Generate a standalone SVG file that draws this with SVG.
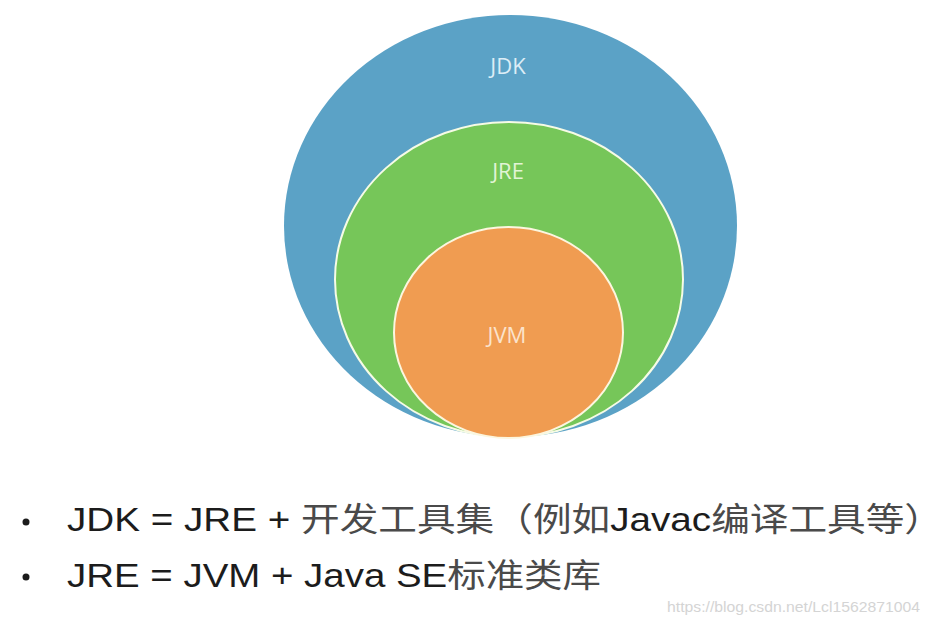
<svg xmlns="http://www.w3.org/2000/svg" width="930" height="627" viewBox="0 0 930 627">
<style>
.lbl{font-family:"Open Sans","Noto Sans",sans-serif;font-size:22px;text-anchor:middle}
.line{font-family:"Liberation Sans","Noto Sans CJK SC",sans-serif;font-size:33px;fill:#1c1c1c}
.cjk{fill:#4a4a4a}
.wm{font-family:"Liberation Sans",sans-serif;font-size:15px;fill:#d4d4d4}
</style>
<rect x="0" y="0" width="930" height="627" fill="#ffffff"/>
<g id="jdk">
<ellipse cx="510.5" cy="226" rx="226.5" ry="211" fill="#5ba2c6"/>
<text class="lbl" x="508" y="74" fill="#dcedf6">JDK</text>
</g>
<g id="jre">
<ellipse cx="509" cy="279.5" rx="174" ry="157.5" fill="#76c659" stroke="#f6fbe6" stroke-width="2"/>
<text class="lbl" x="508" y="179" fill="#e2f4d6">JRE</text>
</g>
<g id="jvm">
<ellipse cx="508.5" cy="332.5" rx="114.5" ry="105.5" fill="#f09c51" stroke="#fcf6df" stroke-width="2"/>
<text class="lbl" x="507" y="343" fill="#fbe3cc">JVM</text>
</g>
<g id="bullets">
<circle cx="26" cy="522" r="3.5" fill="#1c1c1c"/>
<circle cx="26" cy="577" r="3.5" fill="#1c1c1c"/>
<text class="line" x="67" y="531" textLength="876" lengthAdjust="spacingAndGlyphs">JDK = JRE + <tspan class="cjk">开发工具集（例如</tspan>Javac<tspan class="cjk">编译工具等）</tspan></text>
<text class="line" x="67" y="587" textLength="534" lengthAdjust="spacingAndGlyphs">JRE = JVM + Java SE<tspan class="cjk">标准类库</tspan></text>
</g>
<text class="wm" x="667" y="612" textLength="253" lengthAdjust="spacingAndGlyphs">https://blog.csdn.net/Lcl1562871004</text>
</svg>
